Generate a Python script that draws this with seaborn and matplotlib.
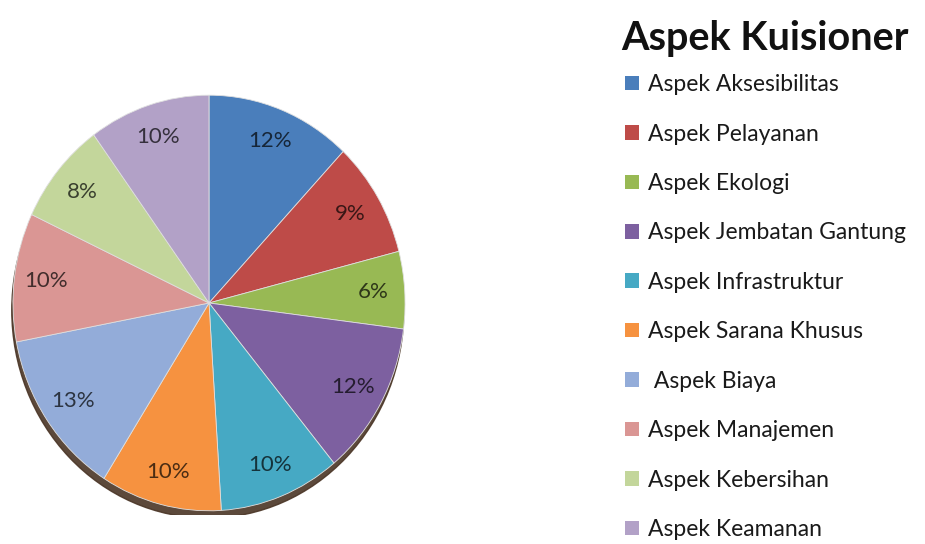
import numpy as np
import matplotlib.pyplot as plt
import seaborn as sns
from matplotlib.patches import Patch, Ellipse

# DATA
aspects = ["Aspek Aksesibilitas", "Aspek Pelayanan", "Aspek Ekologi",
           "Aspek Jembatan Gantung", "Aspek Infrastruktur", "Aspek Sarana Khusus",
           " Aspek Biaya", "Aspek Manajemen", "Aspek Kebersihan", "Aspek Keamanan"]
shares = [12, 9, 6, 12, 10, 10, 13, 10, 8, 10]
slice_colors = ["#4a7ebb", "#be4b48", "#98b954", "#7d60a0", "#46a9c4",
                "#f69240", "#93acd9", "#da9694", "#c3d69b", "#b2a1c7"]

sns.set_theme(style="white")
plt.rcParams['font.family'] = ['Lato', 'DejaVu Sans']

palette = sns.color_palette(slice_colors)
# darker text shade of each slice colour
text_colors = [tuple(np.array(c) * 0.3) for c in palette]

W, H = 925, 544
fig = plt.figure(figsize=(W / 100, H / 100), dpi=100)

# pie axes: slightly tall ellipse, centre around (209, 303) px
cx, cy, hx, hy = 209, 303, 200, 212
ax = fig.add_axes([(cx - hx) / W, (H - cy - hy) / H, 2 * hx / W, 2 * hy / H])

# dark rim / shadow under the pie
ax.add_patch(Ellipse((-0.006, -0.035), 1.98, 1.98, color="#4a3526", alpha=0.9, zorder=0))

wedges, texts, autotexts = ax.pie(
    shares, colors=palette, startangle=90, counterclock=False,
    autopct='%1.0f%%', pctdistance=0.84, radius=0.99,
    wedgeprops=dict(edgecolor="#e0e0e0", linewidth=0.6),
    textprops=dict(fontsize=16))
for t, c in zip(autotexts, text_colors):
    t.set_color(c)
ax.set_xlim(-1.01, 1.01)
ax.set_ylim(-1.01, 1.01)
ax.set_aspect('auto')
ax.axis('off')

# title + legend
fig.text(621 / W, 1 - 50 / H, "Aspek Kuisioner", fontsize=28.5, fontweight='bold',
         color="#111111", ha='left', va='baseline')

handles = [Patch(facecolor=c, edgecolor='none') for c in palette]
fig.legend(handles, aspects, loc='upper left', bbox_to_anchor=(616 / W, 1 - 65 / H),
           frameon=False, fontsize=16.5, labelspacing=1.24, handlelength=0.6,
           handleheight=0.6, handletextpad=0.4, borderaxespad=0, labelcolor="#1a1a1a")

fig.savefig("out.png", dpi=100, facecolor='white')
